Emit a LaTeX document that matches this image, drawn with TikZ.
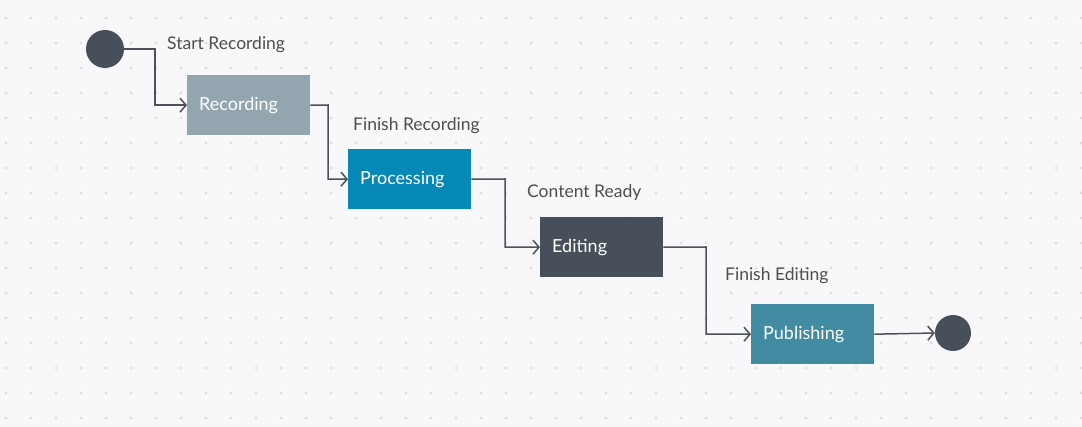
\documentclass[tikz,border=0pt]{standalone}
\usepackage{fontspec}
\setmainfont{Lato}
\usetikzlibrary{arrows.meta}
\definecolor{bgc}{HTML}{F8F8FA}
\definecolor{dotc}{HTML}{E0E0E4}
\definecolor{darkc}{HTML}{474F5A}
\definecolor{recc}{HTML}{93A6AF}
\definecolor{procc}{HTML}{0689B6}
\definecolor{pubc}{HTML}{418CA3}
\definecolor{labc}{HTML}{4E4E4E}
\definecolor{linec}{HTML}{4B525B}
\tikzset{
  statebox/.style={anchor=north west, minimum width=123pt, minimum height=60pt,
    text width=99pt, inner xsep=12pt, inner ysep=0pt, align=left, text=white,
    font=\fontsize{18}{21}\selectfont},
  terminal/.style={circle, fill=darkc, minimum size=38pt, inner sep=0pt},
  trlabel/.style={anchor=west, text=labc, font=\fontsize{17.5}{20}\selectfont, inner sep=0pt},
  conn/.style={draw=linec, line width=1.5pt, -{Straight Barb[length=6pt,width=14pt]}},
}
\begin{document}
\begin{tikzpicture}[x=1pt,y=-1pt]
\fill[bgc] (0,0) rectangle (1082,427);
\useasboundingbox (0,0) rectangle (1082,427);
\foreach \i in {0,...,43} {
  \foreach \j in {0,...,16} {
    \fill[dotc] (6+25*\i,18+25*\j) circle (1.6pt);
  }
}
\node[terminal] (start) at (105,49) {};
\node[statebox, fill=recc] (rec) at (187,75) {\raisebox{1.5pt}{Recording}};
\node[statebox, fill=procc] (proc) at (348,149) {\raisebox{1.5pt}{Processing}};
\node[statebox, fill=darkc] (edit) at (540,217) {\raisebox{1.5pt}{Editing}};
\node[statebox, fill=pubc] (pub) at (751,304) {\raisebox{1.5pt}{Publishing}};
\node[terminal, minimum size=36pt] (end) at (953,333) {};

\node[trlabel] (l1) at (167,45) {Start Recording};
\node[trlabel] (l2) at (353,126) {Finish Recording};
\node[trlabel] (l3) at (527,193) {Content Ready};
\node[trlabel] (l4) at (725,276) {Finish Editing};

\coordinate (b1) at (155,49);
\coordinate (b2) at (328,105);
\coordinate (b3) at (505,179);
\coordinate (b4) at (706,247);
\draw[conn] (start.east) -- (b1) |- (rec.west);
\draw[conn] (rec.east) -- (b2) |- (proc.west);
\draw[conn] (proc.east) -- (b3) |- (edit.west);
\draw[conn] (edit.east) -- (b4) |- (pub.west);
\draw[conn] (pub.east) -- (end.west);
\end{tikzpicture}
\end{document}
